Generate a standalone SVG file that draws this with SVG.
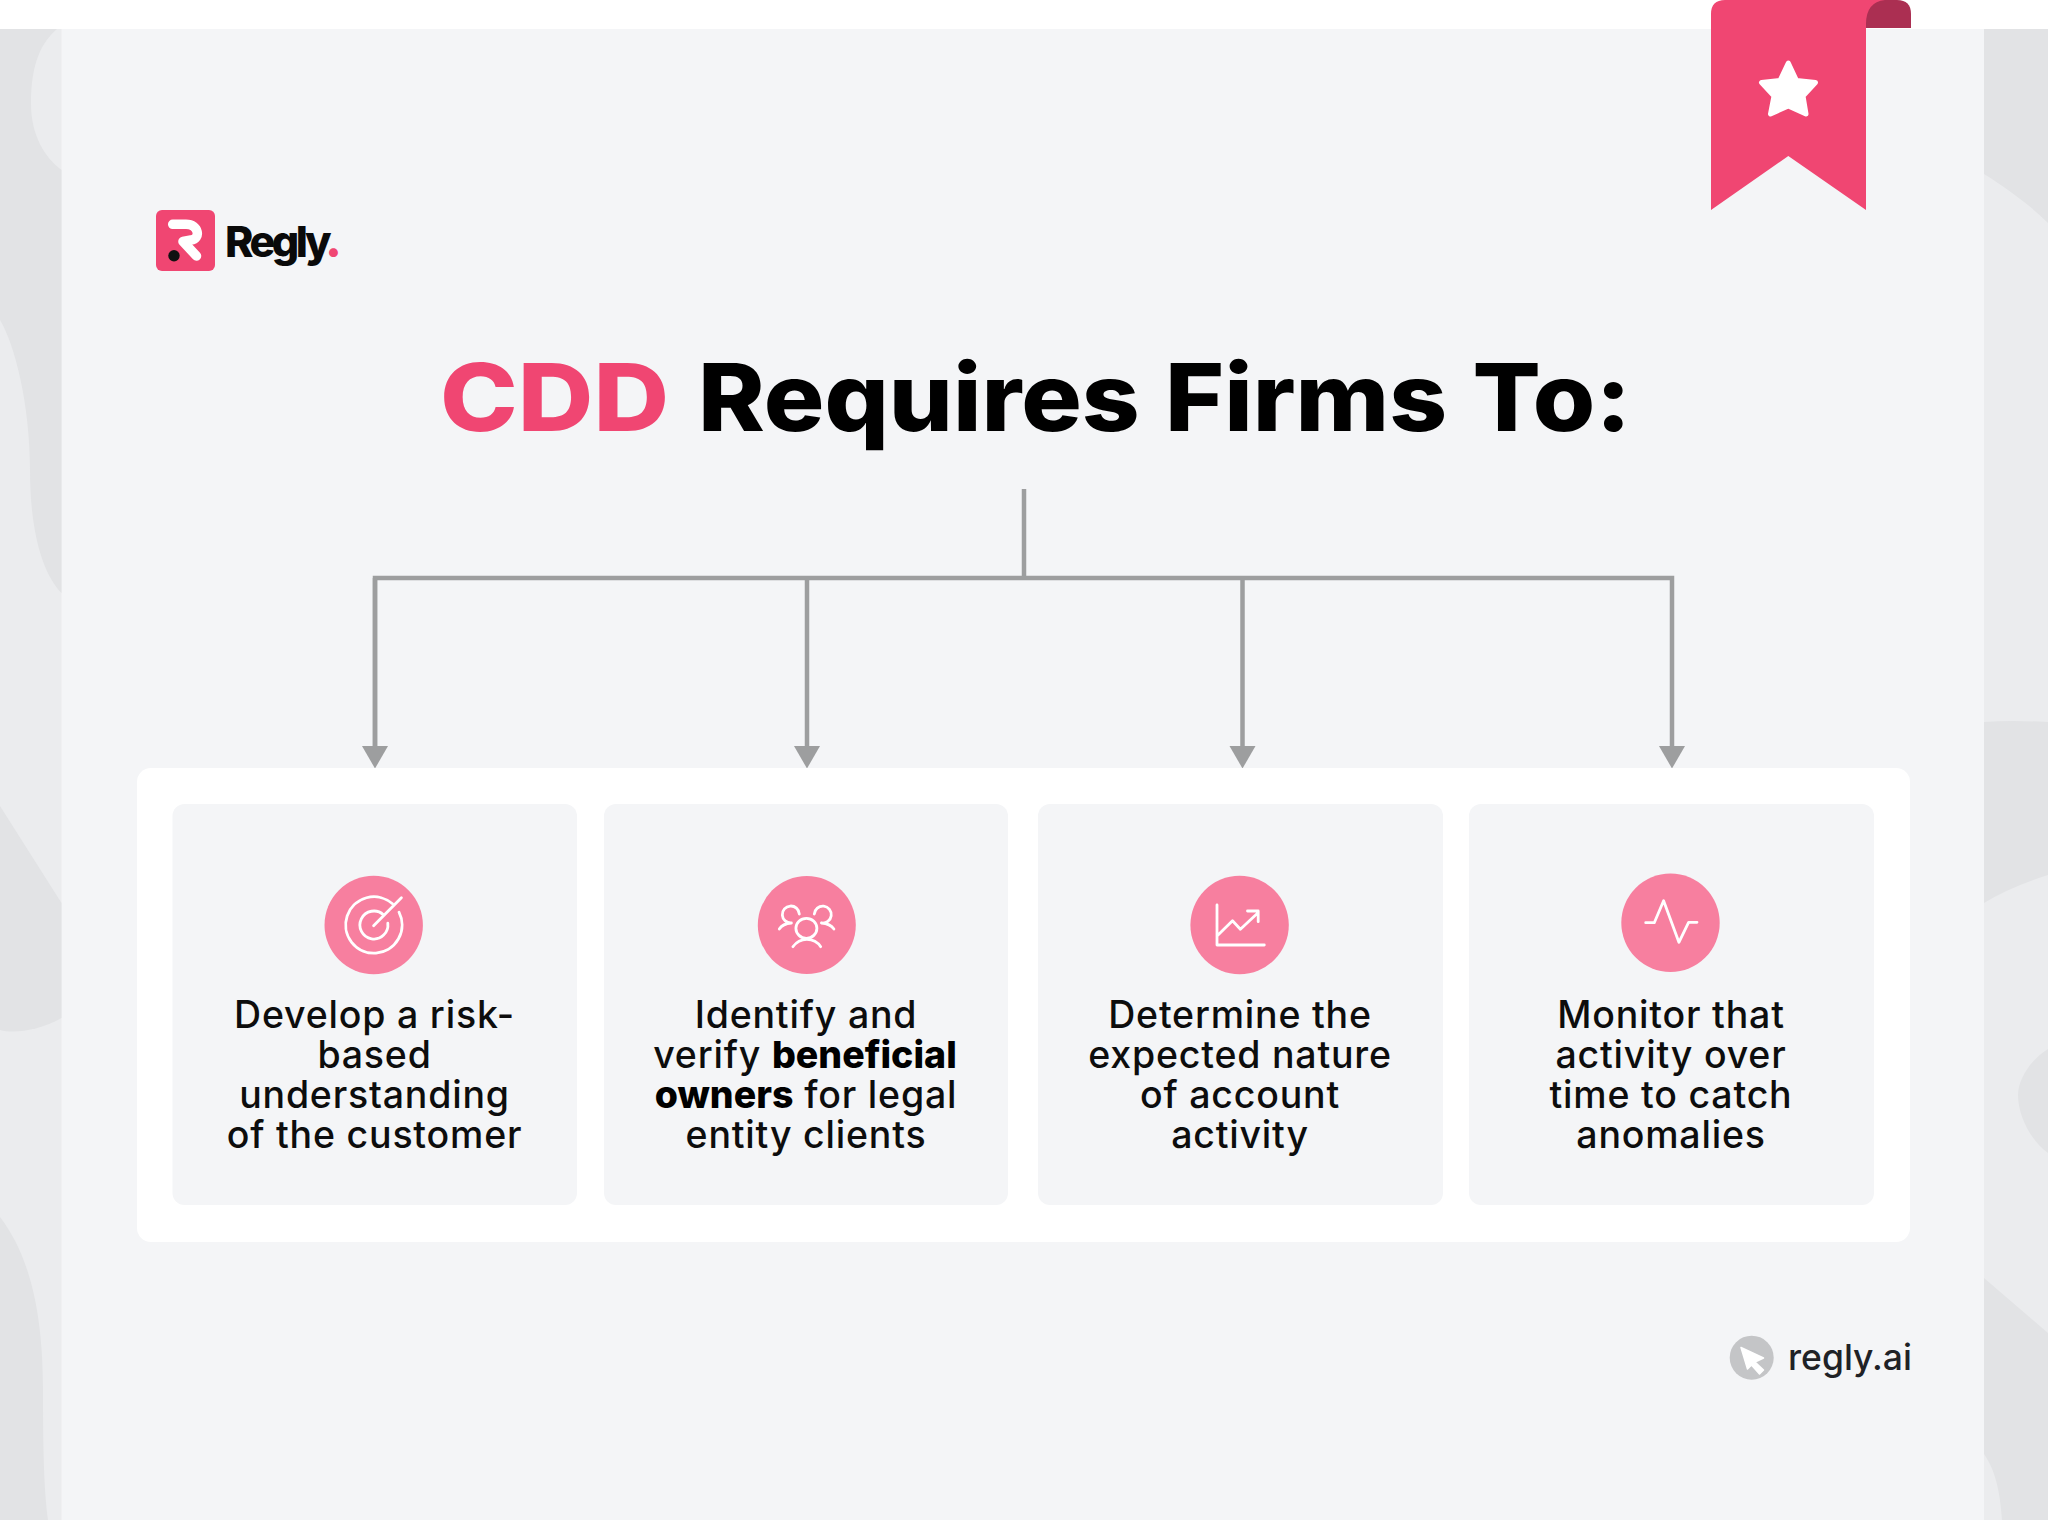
<svg xmlns="http://www.w3.org/2000/svg" width="2048" height="1520" viewBox="0 0 2048 1520">
<style>
.body{font-family:"Inter","Liberation Sans",sans-serif;font-size:37.500px;font-weight:500;fill:#0d0d0d;text-anchor:middle;letter-spacing:.8px}
.b{font-weight:800;fill:#000;letter-spacing:0}
.side{fill:#ebecee}.dk{fill:#e2e3e5}
.card{fill:#f4f5f7}
.ic{fill:#f77f9f}
.ln{fill:none;stroke:#fff;stroke-width:2.8;stroke-linecap:round;stroke-linejoin:round}
.cn{fill:none;stroke:#9d9e9f;stroke-width:4.500}
</style>
<defs>
<marker id="ah" markerUnits="userSpaceOnUse" markerWidth="24" markerHeight="28" viewBox="0 -14 24 28" refX="0" refY="0" orient="auto"><path d="M0 -13L22.500 0L0 13Z" fill="#9d9e9f"/></marker>
</defs>
<rect width="2048" height="1520" fill="#fff"/>
<rect y="29" width="2048" height="1491" fill="#f4f5f7"/>
<g id="background">
<rect y="29" width="61.500" height="1491" class="side"/>
<rect x="1984" y="29" width="64" height="1491" class="side"/>
<path class="dk" d="M0 29H57C42 42 31 62 31 104C31 135 45 158 61.500 170V593C42 573 30 530 30 470C30 405 15 345 0 320Z"/>
<path class="dk" d="M0 806L61.500 903V1018C40 1030 15 1034 0 1030Z"/>
<path class="dk" d="M0 1217C25 1250 43 1300 43 1390C43 1450 44 1490 48 1520H0Z"/>
<path class="dk" d="M1984 29H2048V223C2030 205 2005 187 1984 174Z"/>
<path class="dk" d="M1984 722Q2010 720 2048 722V875Q2010 887 1984 903Z"/>
<path class="dk" d="M2048 1049C2030 1060 2018 1080 2018 1095C2018 1115 2030 1140 2048 1153Z"/>
<path class="dk" d="M1984 1278L2048 1333V1520H2002C2000 1490 1995 1470 1984 1454Z"/>
</g>
<g id="ribbon">
<path d="M1865 0H1897Q1911 0 1911 14V28H1865Z" fill="#ab2f52"/>
<path d="M1711 14Q1711 0 1725 0H1885Q1866 2 1866 24V210L1788.300 156L1711 210Z" fill="#f04672"/>
<path d="M1788.300 63L1796.500 80.500L1815.500 82.500L1803 96L1806 114L1788.300 106L1770.500 114L1774 96L1761.500 82.500L1780 80.500Z" fill="#fff" stroke="#fff" stroke-width="5" stroke-linejoin="round"/>
</g>
<g id="logo">
<rect x="156" y="210" width="59" height="61" rx="6" fill="#f04672"/>
<path d="M172.700 224.300H186C199 224.300 201 239 191 240L183 241.500L196.500 256" fill="none" stroke="#fff" stroke-width="9.500" stroke-linecap="round" stroke-linejoin="round"/>
<circle cx="174" cy="255.700" r="5.700" fill="#111"/>
<text x="225" y="257" font-family="Inter,'Liberation Sans',sans-serif" font-size="43" font-weight="800" letter-spacing="-3.500" fill="#0a0a0a">Regly<tspan fill="#f04672" font-size="48" dx="-3">.</tspan></text>
</g>
<g id="title">
<text y="431" font-family="Inter,'Liberation Sans',sans-serif" font-size="93.500" font-weight="800" fill="#000" word-spacing="3"><tspan x="440" fill="#f04672" textLength="229" lengthAdjust="spacingAndGlyphs">CDD</tspan> <tspan x="698" textLength="933" lengthAdjust="spacingAndGlyphs">Requires Firms To:</tspan></text>
</g>
<g id="connectors">
<path class="cn" d="M1024 489V578"/>
<path class="cn" d="M375 746V578H1672V746" marker-end="url(#ah)"/>
<path class="cn" d="M375 578V746" marker-end="url(#ah)"/>
<path class="cn" d="M807 578V746" marker-end="url(#ah)"/>
<path class="cn" d="M1242.500 578V746" marker-end="url(#ah)"/>
</g>
<g id="panel"><rect x="137" y="768" width="1773" height="474" rx="14" fill="#fff"/></g>
<g id="node1">
<rect class="card" x="172.500" y="804" width="404.500" height="401" rx="12"/>
<circle class="ic" cx="373.700" cy="925" r="49.200"/>
<path class="ln" d="M392.500 903.800A28.200 28.200 0 1 0 399 912.150M383.430 914.750A14 14 0 1 0 387.800 923.260M373.600 925.700L401.400 897.700"/>
<text class="body"><tspan x="374.500" y="1028">Develop a risk-</tspan><tspan x="374.500" y="1068">based</tspan><tspan x="374.500" y="1108">understanding</tspan><tspan x="374.500" y="1148">of the customer</tspan></text>
</g>
<g id="node2">
<rect class="card" x="604" y="804" width="404" height="401" rx="12"/>
<circle class="ic" cx="806.800" cy="925" r="49"/>
<path class="ln" d="M799.300 914A8.500 8.500 0 1 0 791.400 923C786 923.500 781.500 925.500 779.300 929M814.300 914A8.500 8.500 0 1 1 821.400 923C827 923.500 831.500 925.500 833.900 929M792.900 946.700C797 941 802 939.300 806.800 939.300C812 939.300 817 941 820.700 946.700"/>
<ellipse class="ln" cx="806.400" cy="928.300" rx="10.500" ry="10"/>
<text class="body"><tspan x="806" y="1028">Identify and</tspan><tspan x="805" y="1068">verify <tspan class="b">beneficial</tspan></tspan><tspan x="806" y="1108"><tspan class="b">owners</tspan> for legal</tspan><tspan x="806" y="1148">entity clients</tspan></text>
</g>
<g id="node3">
<rect class="card" x="1038" y="804" width="405" height="401" rx="12"/>
<circle class="ic" cx="1239.600" cy="925" r="49.200"/>
<path class="ln" d="M1217 905V945H1264.300M1217 936L1232.500 920.700L1240.400 929.300L1257.500 913.300M1247.500 911H1258.200V921.700"/>
<text class="body"><tspan x="1240" y="1028">Determine the</tspan><tspan x="1240" y="1068">expected nature</tspan><tspan x="1240" y="1108">of account</tspan><tspan x="1240" y="1148">activity</tspan></text>
</g>
<g id="node4">
<rect class="card" x="1469" y="804" width="405" height="401" rx="12"/>
<circle class="ic" cx="1670.500" cy="922.800" r="49.200"/>
<path class="ln" d="M1645.700 922.700H1654.300L1663.600 900.700L1678.900 942.300L1688.600 922.300H1697"/>
<text class="body"><tspan x="1671" y="1028">Monitor that</tspan><tspan x="1671" y="1068">activity over</tspan><tspan x="1671" y="1108">time to catch</tspan><tspan x="1671" y="1148">anomalies</tspan></text>
</g>
<g id="footer">
<circle cx="1751.700" cy="1357.700" r="22" fill="#c4c5c7"/>
<path d="M1741 1347.500L1763.500 1358L1755 1362L1763.500 1370L1759.500 1374L1751.500 1365L1747.500 1369Z" fill="#fff" stroke="#fff" stroke-width="1.500" stroke-linejoin="round"/>
<text x="1788" y="1370" font-family="Inter,'Liberation Sans',sans-serif" font-size="35.500" font-weight="500" fill="#1f2226">regly.ai</text>
</g>
</svg>
